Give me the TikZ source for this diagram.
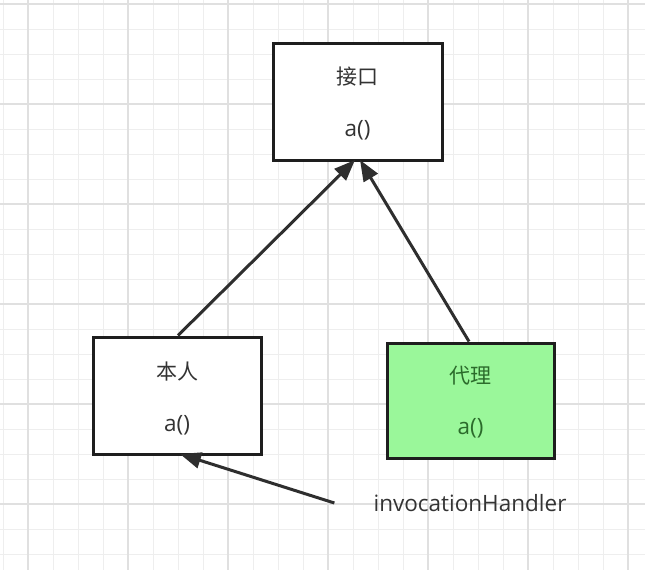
\documentclass[tikz,border=0pt]{standalone}
\usepackage{fontspec}
\setmainfont{Open Sans}
\newfontfamily\cjk{Noto Sans CJK SC}
\usetikzlibrary{arrows.meta,calc}
\definecolor{gridminor}{HTML}{EEEEEE}
\definecolor{gridmajor}{HTML}{E0E0E0}
\definecolor{boxline}{HTML}{1E1E1E}
\definecolor{arrline}{HTML}{2E2E2E}
\definecolor{txt}{HTML}{333333}
\definecolor{greenfill}{HTML}{9AF79A}
\definecolor{greentxt}{HTML}{2B6B2B}
\tikzset{
  umlbox/.style={draw=boxline, line width=3pt, fill=white, minimum width=166pt, minimum height=114pt, inner sep=0pt},
  cjktext/.style={font=\cjk\fontsize{21}{25}\selectfont, text=txt, inner sep=0pt},
  lattext/.style={font=\fontsize{22.5}{27}\selectfont, text=txt, inner sep=0pt},
  arr/.style={draw=arrline, line width=3pt, -{Triangle[length=21pt,width=16pt]}, shorten >=0pt}
}
\begin{document}
\begin{tikzpicture}[x=1pt,y=-1pt]
\useasboundingbox (0,0) rectangle (645,570);
\fill[white] (0,0) rectangle (645,570);
% grid
\foreach \x in {3,28,...,645} {\draw[gridminor, line width=1pt] (\x,0) -- (\x,570);}
\foreach \y in {4,29,...,570} {\draw[gridminor, line width=1pt] (0,\y) -- (645,\y);}
\foreach \x in {28,128,...,645} {\draw[gridmajor, line width=1.3pt] (\x,0) -- (\x,570);}
\foreach \y in {4,104,...,570} {\draw[gridmajor, line width=1.3pt] (0,\y) -- (645,\y);}
% boxes
\node[umlbox, minimum width=169pt, minimum height=117pt] (jk) at (357.5,101.5) {};
\node[cjktext] (jkname) at (357.5,77) {接口};
\node[lattext] (jkop) at (357.5,130) {a()};
\node[umlbox, minimum width=168pt, minimum height=117pt] (ben) at (177,395.5) {};
\node[cjktext] (benname) at (177,372) {本人};
\node[lattext] (benop) at (177,425) {a()};
\node[umlbox, fill=greenfill, minimum width=167pt, minimum height=115pt] (dl) at (470.5,400.5) {};
\node[cjktext, text=greentxt] (dlname) at (470.5,376) {代理};
\node[lattext, text=greentxt] (dlop) at (470.5,428) {a()};
\node[lattext] (ih) at (470,503) {invocationHandler};
\coordinate (ihstart) at ([xshift=-39pt]ih.west);
% connectors
\draw[arr] ([xshift=1pt]ben.north) -- ([xshift=-2.5pt,yshift=1.5pt]jk.south);
\draw[arr] ([xshift=-1.5pt]dl.north) -- ([xshift=2.5pt,yshift=1.5pt]jk.south);
\draw[arr] (ihstart) -- ([xshift=3pt,yshift=1.5pt]ben.south);
\end{tikzpicture}
\end{document}
